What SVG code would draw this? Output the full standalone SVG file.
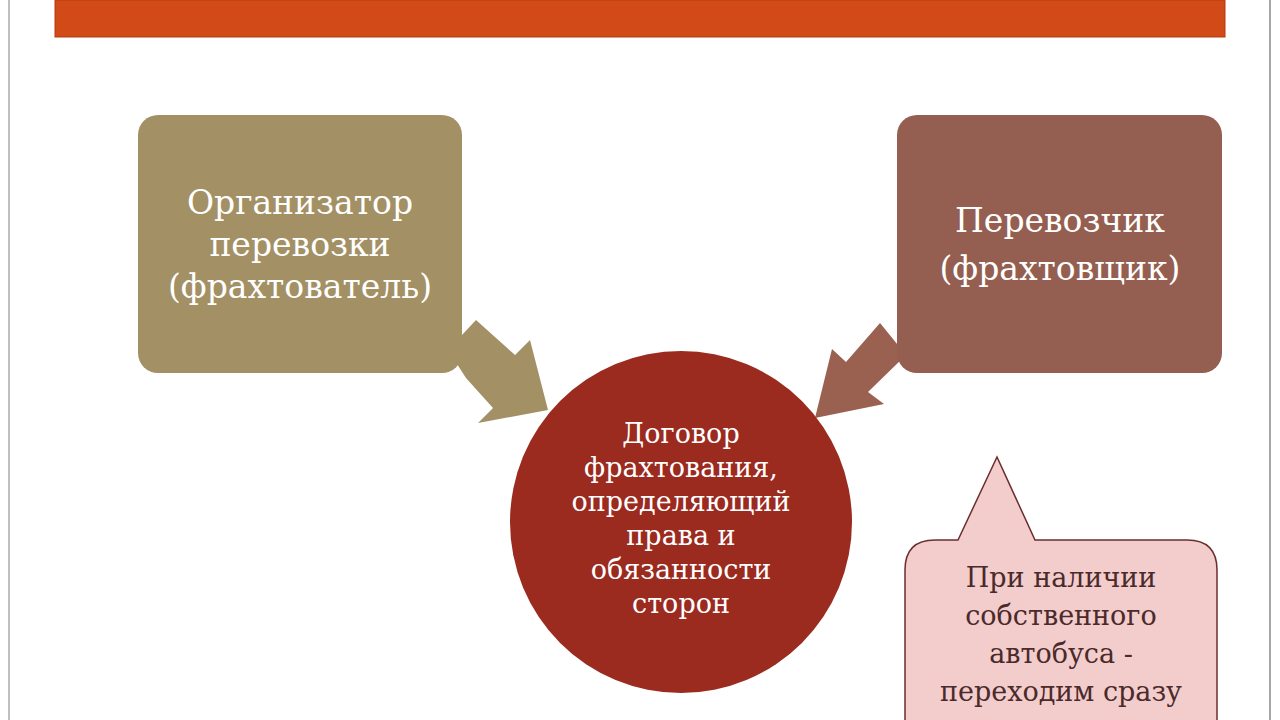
<svg xmlns="http://www.w3.org/2000/svg" width="1280" height="720" viewBox="0 0 1280 720">
<style>
.t{font-family:"DejaVu Serif","Liberation Serif",serif;text-anchor:middle}
.w{fill:#fff}
</style>
<rect width="1280" height="720" fill="#fff"/>
<line x1="9" y1="0" x2="9" y2="720" stroke="#aaa" stroke-width="1.5"/>
<line x1="1270" y1="0" x2="1270" y2="720" stroke="#888" stroke-width="1.5"/>
<rect x="55" y="0" width="1170" height="37" fill="#d14a17" stroke="#b23a10" stroke-width="1"/>
<g id="connectors">
<polygon points="448,350 476,320 515,355 530,340 548,410 478,423 493,408 466,378" fill="#a39065"/>
<polygon points="880,323 906,355 868,392 884,404 815,418 832,349 846,362" fill="#9a6050"/>
</g>
<g id="organizer">
<rect x="138" y="115" width="324" height="258" rx="20" fill="#a39065"/>
<text class="t w" font-size="33"><tspan x="300" y="214">Организатор</tspan><tspan x="300" y="256">перевозки</tspan><tspan x="300" y="298">(фрахтователь)</tspan></text>
</g>
<g id="carrier">
<rect x="897" y="115" width="325" height="258" rx="20" fill="#945f50"/>
<text class="t w" font-size="33"><tspan x="1060" y="232">Перевозчик</tspan><tspan x="1060" y="280">(фрахтовщик)</tspan></text>
</g>
<g id="contract">
<circle cx="681" cy="522" r="171" fill="#9b2a1f"/>
<text class="t w" font-size="27"><tspan x="681" y="443">Договор</tspan><tspan x="681" y="477">фрахтования,</tspan><tspan x="681" y="511">определяющий</tspan><tspan x="681" y="545">права и</tspan><tspan x="681" y="579">обязанности</tspan><tspan x="681" y="613">сторон</tspan></text>
</g>
<g id="callout">
<path d="M935,540 L958,540 L997,457 L1035,540 L1187,540 Q1217,540 1217,570 L1217,730 L905,730 L905,570 Q905,540 935,540 Z" fill="#f3cccc" stroke="#6b2e2e" stroke-width="1.5"/>
<text class="t" font-size="27" fill="#4a2a2a"><tspan x="1061" y="587">При наличии</tspan><tspan x="1061" y="625">собственного</tspan><tspan x="1061" y="663">автобуса -</tspan><tspan x="1061" y="701">переходим сразу</tspan></text>
</g>
</svg>
